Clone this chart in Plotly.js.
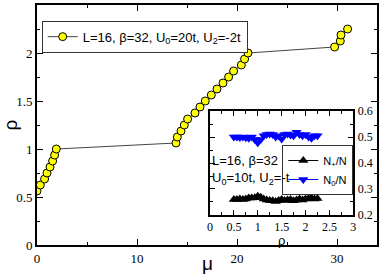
<!DOCTYPE html>
<html>
<head>
<meta charset="utf-8">
<script src="https://cdn.plot.ly/plotly-3.0.1.min.js"></script>
<style>html,body{margin:0;padding:0;background:#fff;}#plot{width:382px;height:278px;}</style>
</head>
<body>
<div id="plot"></div>
<script>
// Main curve: density rho vs chemical potential mu
const mu = [0, 0.33, 0.76, 1.0, 1.3, 1.56, 1.76, 1.93,
            13.9, 14.03, 14.4, 14.73, 15.06, 15.8, 16.3, 16.83, 17.43, 18.0, 18.6, 19.16, 19.66, 20.43, 20.76, 21.1,
            29.76, 30.33, 30.4, 31.06];
const rho = [0.5625, 0.625, 0.6875, 0.75, 0.8125, 0.875, 0.9375, 1.0,
             1.0625, 1.125, 1.1875, 1.25, 1.3125, 1.375, 1.4375, 1.5, 1.5625, 1.625, 1.6875, 1.75, 1.8125, 1.875, 1.9375, 2.0,
             2.0625, 2.125, 2.1875, 2.25];

// Inset: populations vs rho
const rhoInset = [0.5, 0.5625, 0.625, 0.6875, 0.75, 0.8125, 0.875, 0.9375, 1.0, 1.0625, 1.125, 1.1875, 1.25, 1.3125, 1.375,
                  1.4375, 1.5, 1.5625, 1.625, 1.6875, 1.75, 1.8125, 1.875, 1.9375, 2.0, 2.0625, 2.125, 2.1875, 2.25];
const nPlus = [0.26, 0.26, 0.262, 0.26, 0.262, 0.265, 0.265, 0.266, 0.272, 0.268, 0.262, 0.258, 0.256, 0.255, 0.252,
               0.256, 0.26, 0.256, 0.258, 0.26, 0.255, 0.258, 0.262, 0.258, 0.262, 0.263, 0.265, 0.262, 0.263];
const nZero = [0.50, 0.50, 0.498, 0.50, 0.497, 0.495, 0.50, 0.49, 0.478, 0.49, 0.505, 0.51, 0.512, 0.51, 0.50,
               0.505, 0.492, 0.51, 0.512, 0.508, 0.505, 0.518, 0.51, 0.505, 0.51, 0.50, 0.495, 0.505, 0.505];

const mainLabel = 'L=16, β=32, U<sub>0</sub>=20t, U<sub>2</sub>=-2t';
const plusLabel = 'N<sub>+</sub>/N';
const zeroLabel = 'N<sub>0</sub>/N';
const insetNote = 'L=16, β=32<br>U<sub>0</sub>=10t, U<sub>2</sub>=-t';
const xTitle = 'μ';
const yTitle = 'ρ';
const insetXTitle = 'ρ';

const serif = 'Liberation Serif';
const sans = 'Liberation Sans';

const traces = [
  {x: mu, y: rho, type: 'scatter', mode: 'lines+markers', name: mainLabel,
   line: {color: '#444', width: 1},
   marker: {symbol: 'circle', size: 8, color: '#ffff00', line: {color: '#000', width: 1}},
   xaxis: 'x', yaxis: 'y', legend: 'legend'},
  {x: rhoInset, y: nPlus, type: 'scatter', mode: 'lines+markers', name: plusLabel,
   line: {color: '#000', width: 1},
   marker: {symbol: 'triangle-up', size: 9, color: '#000'},
   xaxis: 'x2', yaxis: 'y2', legend: 'legend2'},
  {x: rhoInset, y: nZero, type: 'scatter', mode: 'lines+markers', name: zeroLabel,
   line: {color: '#0000ff', width: 1},
   marker: {symbol: 'triangle-down', size: 9, color: '#0000ff'},
   xaxis: 'x2', yaxis: 'y2', legend: 'legend2'}
];

const axisCommon = {
  showline: true, linecolor: '#000', linewidth: 2, mirror: 'ticks',
  ticks: 'inside', tickcolor: '#000', tickwidth: 1,
  showgrid: false, zeroline: false
};

const layout = {
  width: 382, height: 278,
  margin: {l: 37, r: 5, t: 5, b: 33, pad: 0},
  paper_bgcolor: '#fff', plot_bgcolor: '#fff',
  showlegend: true,
  font: {family: sans, color: '#000'},
  xaxis: Object.assign({}, axisCommon, {
    domain: [0, 1], range: [0, 34], tickmode: 'linear', tick0: 0, dtick: 10, ticklen: 6,
    minor: {dtick: 5, ticklen: 3, ticks: 'inside', tickcolor: '#000', showgrid: false},
    tickfont: {family: serif, size: 13}
  }),
  yaxis: Object.assign({}, axisCommon, {
    domain: [0, 1], range: [0, 2.5], tickmode: 'linear', tick0: 0, dtick: 0.5, ticklen: 6,
    minor: {dtick: 0.25, ticklen: 3, ticks: 'inside', tickcolor: '#000', showgrid: false},
    tickfont: {family: serif, size: 13},
    title: {text: yTitle, font: {family: sans, size: 19}, standoff: 8}
  }),
  xaxis2: Object.assign({}, axisCommon, {
    domain: [0.5088, 0.9303], anchor: 'y2', range: [0, 3], tickmode: 'linear', tick0: 0, dtick: 0.5, ticklen: 5,
    minor: {dtick: 0.25, ticklen: 3, ticks: 'inside', tickcolor: '#000', showgrid: false},
    tickfont: {family: serif, size: 12}
  }),
  yaxis2: Object.assign({}, axisCommon, {
    domain: [0.125, 0.5583], anchor: 'x2', side: 'right', range: [0.2, 0.6], tickmode: 'linear', tick0: 0.2, dtick: 0.1, ticklen: 5,
    minor: {dtick: 0.05, ticklen: 3, ticks: 'inside', tickcolor: '#000', showgrid: false},
    tickfont: {family: serif, size: 12}
  }),
  legend: {
    x: 0.0138, y: 0.9346, xanchor: 'left', yanchor: 'top', xref: 'paper', yref: 'paper',
    bgcolor: '#fff', bordercolor: '#333', borderwidth: 1,
    font: {family: sans, size: 13}, itemwidth: 30, tracegroupgap: 0
  },
  legend2: {
    x: 0.9303, y: 0.4167, xanchor: 'right', yanchor: 'top', xref: 'paper', yref: 'paper',
    bgcolor: '#fff', bordercolor: '#333', borderwidth: 1,
    font: {family: sans, size: 11}, itemwidth: 30, tracegroupgap: 0
  },
  annotations: [
    {text: insetNote, xref: 'paper', yref: 'paper', x: 0.508, y: 0.312, xanchor: 'left', yanchor: 'middle',
     align: 'left', showarrow: false, font: {family: sans, size: 13, color: '#000'}},
    {text: xTitle, xref: 'paper', yref: 'paper', x: 0.5, y: -0.075, xanchor: 'center', yanchor: 'middle',
     showarrow: false, font: {family: sans, size: 19, color: '#000'}},
    {text: insetXTitle, xref: 'paper', yref: 'paper', x: 0.7195, y: 0.058, xanchor: 'center', yanchor: 'top',
     showarrow: false, font: {family: sans, size: 13, color: '#000'}}
  ]
};

Plotly.newPlot('plot', traces, layout, {staticPlot: true, displayModeBar: false});
</script>
</body>
</html>
